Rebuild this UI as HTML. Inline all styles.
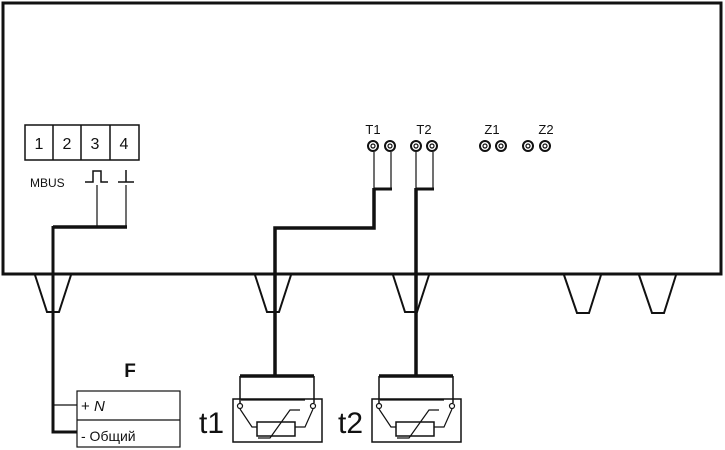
<!DOCTYPE html>
<html><head><meta charset="utf-8"><style>body{margin:0;background:#fff}svg{display:block}text{font-family:"Liberation Sans",sans-serif;fill:#111}</style></head><body>
<svg width="725" height="450" viewBox="0 0 725 450" xmlns="http://www.w3.org/2000/svg">
<g fill="none" stroke="#111">
<rect x="3" y="3" width="718" height="271" stroke-width="3"/>
<g stroke-width="2">
<path d="M35,275 L47,312 L59,312 L71,275"/>
<path d="M255,275 L267,312 L279,312 L291,275"/>
<path d="M393,275 L405,312 L417,312 L429,275"/>
<path d="M564,275 L577,313 L589,313 L601,275"/>
<path d="M639,275 L652,313 L664,313 L676,275"/>
</g>
<rect x="25" y="125" width="114" height="35" stroke-width="1.5"/>
<path d="M53,125V160M81,125V160M110,125V160" stroke-width="1.5"/>
<path d="M85,182H93V171H101V182H108" stroke-width="1.5"/>
<path d="M118,182H134M126,182V170" stroke-width="1.5"/>
<path d="M97,185V227M126,185V227" stroke-width="1.2"/>
<path d="M53,227H127" stroke-width="3.5"/>
<path d="M53,226V432H77" stroke-width="3"/>
<path d="M53,405H77" stroke-width="1.2"/>
<g stroke-width="2">
<circle cx="373" cy="146" r="5"/><circle cx="390" cy="146" r="5"/>
<circle cx="416" cy="146" r="5"/><circle cx="432" cy="146" r="5"/>
<circle cx="485" cy="146" r="5"/><circle cx="501" cy="146" r="5"/>
<circle cx="528" cy="146" r="5"/><circle cx="545" cy="146" r="5"/>
</g>
<g stroke-width="1.2">
<circle cx="373" cy="146" r="2"/><circle cx="390" cy="146" r="2"/>
<circle cx="416" cy="146" r="2"/><circle cx="432" cy="146" r="2"/>
<circle cx="485" cy="146" r="2"/><circle cx="501" cy="146" r="2"/>
<circle cx="528" cy="146" r="2"/><circle cx="545" cy="146" r="2"/>
</g>
<path d="M374,152V189M391,152V189M416,152V189M433,152V189" stroke-width="1.2"/>
<path d="M374,189H392M416,189H434" stroke-width="3"/>
<path d="M374,188V228H275V375" stroke-width="3.5"/>
<path d="M416,188V375" stroke-width="3.5"/>
<rect x="77" y="391" width="103" height="56" stroke-width="1.2"/>
<path d="M77,420H180" stroke-width="1.2"/>
<g id="s1">
<path d="M240,376H314" stroke-width="3.5"/>
<path d="M240,376V403M314,376V403" stroke-width="1.5"/>
<rect x="233" y="399" width="89" height="43" stroke-width="1.5"/>
<path d="M241,400H305" stroke-width="1.2"/>
<circle cx="240" cy="406" r="2.5" stroke-width="1.2"/><circle cx="313" cy="406" r="2.5" stroke-width="1.2"/>
<path d="M240,409L252,427H257M295,427H305L313,409" stroke-width="1.2"/>
<rect x="257" y="422" width="38" height="14" stroke-width="1.5"/>
<path d="M258,438H270L290,410H300" stroke-width="1.2"/>
</g>
<use href="#s1" transform="translate(139,0)"/>
</g>
<g font-size="13">
<text x="373" y="134" text-anchor="middle">T1</text>
<text x="424" y="134" text-anchor="middle">T2</text>
<text x="492" y="134" text-anchor="middle">Z1</text>
<text x="546" y="134" text-anchor="middle">Z2</text>
<text x="30" y="187" font-size="12">MBUS</text>
</g>
<g font-size="16" text-anchor="middle">
<text x="39" y="149">1</text><text x="67" y="149">2</text><text x="95" y="149">3</text><text x="124" y="149">4</text>
</g>
<text x="130" y="377" font-size="19" font-weight="bold" text-anchor="middle">F</text>
<text x="81" y="411" font-size="15">+ <tspan font-style="italic">N</tspan></text>
<text x="81" y="441" font-size="14">- Общий</text>
<text x="199" y="433" font-size="30">t1</text>
<text x="338" y="433" font-size="30">t2</text>
</svg>
</body></html>
